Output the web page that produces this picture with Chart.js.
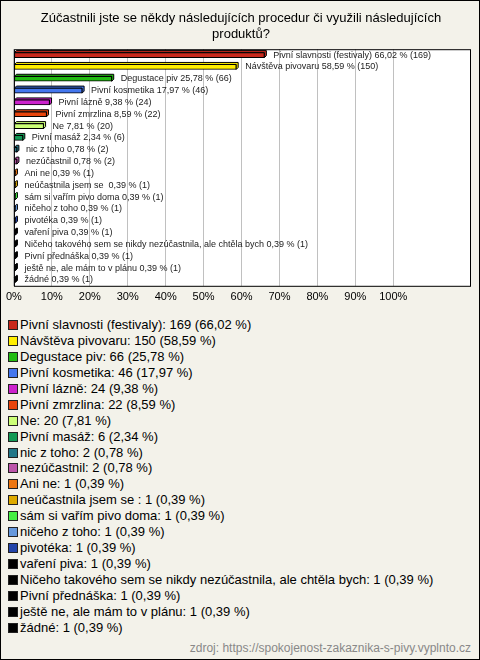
<!DOCTYPE html>
<html>
<head>
<meta charset="utf-8">
<script src="https://cdn.jsdelivr.net/npm/chart.js@4/dist/chart.umd.min.js"></script>
<style>
  body { margin: 0; background: #fff; font-family: "Liberation Sans", Arial, sans-serif; }
  #box { position: relative; width: 478px; height: 658px; border: 1px solid #000; background: #f3f2ea; overflow: hidden; }
  #chart { position: absolute; left: 0; top: 0; }
  #legend { position: absolute; left: 7px; top: 316px; margin: 0; padding: 0; list-style: none; font-size: 13px; color: #000; }
  #legend li { height: 15.95px; line-height: 15.95px; white-space: nowrap; }
  #legend .sw { display: inline-block; width: 8px; height: 8px; border: 1px solid #222; margin-right: 2px; vertical-align: -1px; }
  #source { position: absolute; right: 8px; top: 640px; font-size: 12px; color: #888; }
</style>
</head>
<body>
<div id="box">
  <canvas id="chart" width="478" height="312"></canvas>
  <ul id="legend"></ul>
  <div id="source">zdroj: https://spokojenost-zakaznika-s-pivy.vyplnto.cz</div>
</div>
<script>
// Data z grafu
const categories = [
  'Pivní slavnosti (festivaly)', 'Návštěva pivovaru', 'Degustace piv', 'Pivní kosmetika',
  'Pivní lázně', 'Pivní zmrzlina', 'Ne', 'Pivní masáž', 'nic z toho', 'nezúčastnil',
  'Ani ne', 'neúčastnila jsem se ', 'sám si vařím pivo doma', 'ničeho z toho', 'pivotéka',
  'vaření piva', 'Ničeho takového sem se nikdy nezúčastnila, ale chtěla bych',
  'Pivní přednáška', 'ještě ne, ale mám to v plánu', 'žádné'
];
const counts = [169, 150, 66, 46, 24, 22, 20, 6, 2, 2, 1, 1, 1, 1, 1, 1, 1, 1, 1, 1];
const percents = [66.02, 58.59, 25.78, 17.97, 9.38, 8.59, 7.81, 2.34, 0.78, 0.78,
  0.39, 0.39, 0.39, 0.39, 0.39, 0.39, 0.39, 0.39, 0.39, 0.39];
const colors = [
  '#c8281c', '#ffee00', '#22bb11', '#4477ee', '#cc22cc', '#e8440c', '#ccff77', '#119955',
  '#227788', '#bb55aa', '#ee7711', '#ddaa00', '#44ee44', '#6699dd', '#2244aa',
  '#000000', '#000000', '#000000', '#000000', '#000000'
];
const tickValues = [0, 10, 20, 30, 40, 50, 60, 70, 80, 90, 100];
const tickLabels = ['0%', '10%', '20%', '30%', '40%', '50%', '60%', '70%', '80%', '90%', '100%'];

const fmt = v => v.toFixed(2).replace('.', ',');

Chart.defaults.font.family = '"Liberation Sans", Arial, sans-serif';
Chart.defaults.color = '#000';

// bílé pozadí a rámeček plochy grafu
const plotFrame = {
  id: 'plotFrame',
  beforeDraw(chart) {
    const a = chart.chartArea, ctx = chart.ctx;
    ctx.save();
    ctx.fillStyle = '#fff';
    ctx.fillRect(a.left, a.top, a.right - a.left, a.bottom - a.top);
    ctx.restore();
  },
  afterDraw(chart) {
    const a = chart.chartArea, ctx = chart.ctx;
    ctx.save();
    ctx.strokeStyle = '#000';
    ctx.lineWidth = 1;
    ctx.strokeRect(a.left + 0.5, a.top + 0.5, a.right - a.left - 1, a.bottom - a.top);
    ctx.restore();
  }
};

// 3D hloubka sloupců (horní a pravá stěna)
const barDepth = {
  id: 'barDepth',
  beforeDatasetsDraw(chart) {
    const ctx = chart.ctx, d = 2;
    const meta = chart.getDatasetMeta(0);
    ctx.save();
    ctx.lineWidth = 1;
    ctx.strokeStyle = '#000';
    meta.data.forEach((bar, i) => {
      const l = Math.min(bar.base, bar.x), r = Math.max(bar.base, bar.x);
      const t = bar.y - bar.height / 2, b = bar.y + bar.height / 2;
      ctx.beginPath();
      ctx.moveTo(l, t);
      ctx.lineTo(l + d, t - d);
      ctx.lineTo(r + d, t - d);
      ctx.lineTo(r + d, b - d);
      ctx.lineTo(r, b);
      ctx.lineTo(r, t);
      ctx.closePath();
      ctx.fillStyle = colors[i];
      ctx.fill();
      ctx.stroke();
    });
    ctx.restore();
  }
};

// popisky za sloupci
const barLabels = {
  id: 'barLabels',
  afterDatasetsDraw(chart) {
    const ctx = chart.ctx;
    const meta = chart.getDatasetMeta(0);
    ctx.save();
    ctx.font = '9px "Liberation Sans", Arial, sans-serif';
    ctx.fillStyle = '#222';
    ctx.textBaseline = 'middle';
    meta.data.forEach((bar, i) => {
      const txt = categories[i] + ' ' + fmt(percents[i]) + ' % (' + counts[i] + ')';
      ctx.fillText(txt, bar.x + 9, bar.y);
    });
    ctx.restore();
  }
};

new Chart(document.getElementById('chart'), {
  type: 'bar',
  data: {
    labels: categories,
    datasets: [{
      data: percents,
      backgroundColor: colors,
      borderColor: '#000',
      borderWidth: 1,
      borderSkipped: false,
      barThickness: 5
    }]
  },
  options: {
    indexAxis: 'y',
    responsive: false,
    animation: false,
    layout: { padding: { left: 10, right: 8, top: 0, bottom: 4 } },
    scales: {
      x: {
        min: 0,
        max: 120.5,
        afterBuildTicks: axis => { axis.ticks = tickValues.map(v => ({ value: v })); },
        ticks: {
          padding: 5,
          font: { size: 11 },
          color: '#000',
          callback: (v, i) => tickLabels[i]
        },
        grid: { color: '#c0c0c0', drawTicks: false },
        border: { display: false }
      },
      y: { display: false }
    },
    plugins: {
      legend: { display: false },
      tooltip: { enabled: false },
      title: {
        display: true,
        text: ['Zúčastnili jste se někdy následujících procedur či využili následujících', 'produktů?'],
        font: { size: 13, weight: 'normal' },
        color: '#000',
        padding: { top: 10, bottom: 7 }
      }
    }
  },
  plugins: [plotFrame, barDepth, barLabels]
});

// legenda
const ul = document.getElementById('legend');
categories.forEach((c, i) => {
  const li = document.createElement('li');
  const sw = document.createElement('span');
  sw.className = 'sw';
  sw.style.background = colors[i];
  li.appendChild(sw);
  li.appendChild(document.createTextNode(c + ': ' + counts[i] + ' (' + fmt(percents[i]) + ' %)'));
  ul.appendChild(li);
});
</script>
</body>
</html>
